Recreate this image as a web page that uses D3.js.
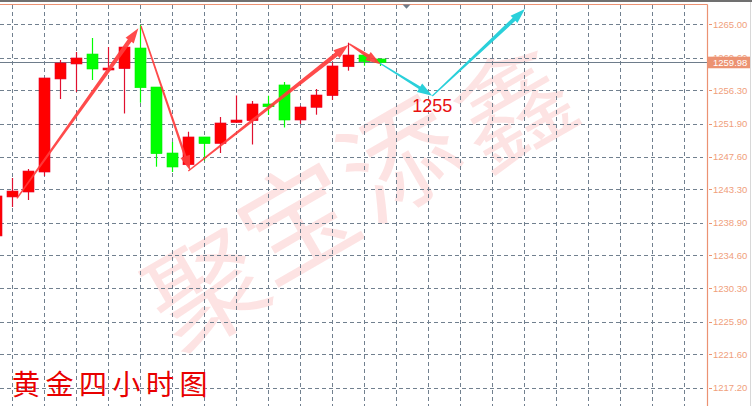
<!DOCTYPE html>
<meta charset="utf-8">
<style>
body { margin: 0; background: #fff; }
svg { display: block; }
.grid line { stroke: #71808f; stroke-width: 1; stroke-dasharray: 4,3; shape-rendering: crispEdges; }
.ylab { font: 9.5px "Liberation Sans", Arial, sans-serif; fill: #f0a07c; }
</style>
<body>
<svg id="chart" width="752" height="406"></svg>
<script src="https://d3js.org/d3.v7.min.js"></script>
<script>
// bars: index 0 sits on the first full grid column
var barIdx  = [-1, 0, 1, 2, 3, 4, 5, 6, 7, 8, 9, 10, 11, 12, 13, 14, 15, 16, 17, 18, 19, 20, 21, 22, 23];
var opens   = [1237.16, 1242.29, 1242.94, 1245.57, 1257.81, 1259.78, 1261.09, 1259.16, 1259.16, 1261.88, 1256.75, 1248.07, 1246.53, 1250.18, 1249.32, 1252.08, 1252.32, 1254.52, 1257.02, 1252.41, 1254.08, 1255.61, 1259.42, 1260.96, 1260.44];
var highs   = [1242.42, 1244.78, 1245.97, 1257.94, 1260.30, 1261.36, 1263.20, 1262.01, 1262.01, 1264.91, 1256.75, 1249.52, 1250.87, 1250.18, 1252.81, 1255.64, 1254.91, 1255.61, 1257.41, 1254.29, 1256.49, 1260.00, 1262.58, 1260.96, 1260.44];
var lows    = [1236.90, 1240.97, 1241.89, 1245.05, 1255.17, 1256.10, 1257.67, 1259.12, 1253.27, 1254.69, 1246.27, 1245.57, 1246.36, 1247.06, 1248.07, 1252.02, 1249.19, 1253.07, 1251.43, 1251.89, 1253.11, 1255.04, 1258.90, 1259.55, 1259.52];
var closes  = [1242.42, 1243.07, 1245.70, 1257.94, 1259.91, 1260.57, 1259.12, 1259.25, 1262.01, 1256.66, 1247.98, 1246.23, 1250.18, 1249.30, 1252.02, 1252.41, 1254.52, 1254.16, 1252.41, 1254.12, 1255.70, 1259.52, 1260.96, 1260.08, 1259.98];

var tickVals = [1265.00, 1260.60, 1256.30, 1251.90, 1247.60, 1243.30, 1238.90, 1234.60, 1230.30, 1225.90, 1221.60, 1217.20];
var lastPrice = 1259.98;

// trend arrows as [bar index, price] pairs
var redArrows = [
  {from: [0.29, 1242.11], to: [7.88, 1264.47], w0: 1.5, w1: 4.5},
  {from: [8.04, 1264.78], to: [11.11, 1245.77], w0: 1.5, w1: 2.5},
  {from: [11.0, 1245.70], to: [21.0, 1262.28], w0: 1.5, w1: 4.5},
  {from: [21.06, 1262.41], to: [23.02, 1259.74], w0: 1.5, w1: 4}
];
var cyanArrows = [
  {from: [22.98, 1259.87], to: [26.25, 1255.61], w0: 1.2, w1: 3},
  {from: [26.25, 1255.57], to: [32.04, 1267.01], w0: 1.2, w1: 4}
];
var target = {idx: 26.25, price: 1253.53, text: "1255"};
var title = "黄金四小时图";
var watermark = ["聚", "宝", "添", "鑫"];

var W = 752, H = 406, axisX = 707.5, topY = 4.5;
var svg = d3.select("#chart");

var x = d3.scaleLinear().domain([0, 1]).range([12.3, 28.3]);
var y = d3.scaleLinear().domain([1217.2, 1265]).range([387.7, 24.3]);

// watermark
var wmPos = [[207, 290], [298, 222], [400, 160], [514, 108]];
svg.append("g").selectAll("text")
  .data(watermark)
  .enter().append("text")
    .attr("transform", function(d, i) { return "translate(" + wmPos[i][0] + "," + wmPos[i][1] + ") rotate(-30)"; })
    .attr("text-anchor", "middle")
    .attr("dy", "0.36em")
    .style("font", "115px 'Noto Sans CJK SC'")
    .style("fill", "#f04040")
    .style("fill-opacity", 0.15)
    .text(function(d) { return d; });

// grid
var grid = svg.append("g").attr("class", "grid");
grid.selectAll(".hg")
  .data(tickVals)
  .enter().append("line")
    .attr("x1", 0).attr("x2", 703)
    .attr("y1", function(d) { return Math.round(y(d)) + 0.5; })
    .attr("y2", function(d) { return Math.round(y(d)) + 0.5; });
grid.selectAll(".vg")
  .data(d3.range(0, 44, 2))
  .enter().append("line")
    .attr("y1", topY).attr("y2", H)
    .attr("x1", function(d) { return Math.round(x(d)) + 0.5; })
    .attr("x2", function(d) { return Math.round(x(d)) + 0.5; });

// current price line
svg.append("line")
  .attr("x1", 0).attr("x2", axisX)
  .attr("y1", Math.round(y(lastPrice)) + 0.5).attr("y2", Math.round(y(lastPrice)) + 0.5)
  .style("stroke", "#6e7c8b").style("stroke-width", 1);

// candles
var bars = barIdx.map(function(d, i) {
  return {i: d, o: opens[i], h: highs[i], l: lows[i], c: closes[i]};
});
var candle = svg.append("g").selectAll("g")
  .data(bars)
  .enter().append("g");
candle.append("line")
  .attr("x1", function(d) { return Math.round(x(d.i)) + 0.5; })
  .attr("x2", function(d) { return Math.round(x(d.i)) + 0.5; })
  .attr("y1", function(d) { return y(d.h); })
  .attr("y2", function(d) { return y(d.l); })
  .style("stroke", function(d) { return d.c >= d.o ? "#e0102f" : "#00ff00"; })
  .style("stroke-width", 1.2);
candle.append("rect")
  .attr("x", function(d) { return Math.round(x(d.i)) - 5; })
  .attr("width", 11)
  .attr("y", function(d) { return y(Math.max(d.o, d.c)); })
  .attr("height", function(d) { return Math.max(2, Math.abs(y(d.o) - y(d.c))); })
  .style("fill", function(d) { return d.c >= d.o ? "#ff0000" : "#00ff00"; })
  .style("stroke", function(d) { return d.c >= d.o ? "#e8002a" : "#00ee00"; })
  .style("stroke-width", 0.6);

// tapered arrow shape
function arrowPath(a) {
  var x0 = x(a.from[0]), y0 = y(a.from[1]), x1 = x(a.to[0]), y1 = y(a.to[1]);
  var dx = x1 - x0, dy = y1 - y0, len = Math.sqrt(dx * dx + dy * dy);
  var ux = dx / len, uy = dy / len, nx = -uy, ny = ux;
  var hl = 15, hw = 10;
  var bx = x1 - ux * hl, by = y1 - uy * hl;
  var pts = [
    [x0 + nx * a.w0 / 2, y0 + ny * a.w0 / 2],
    [bx + nx * a.w1 / 2, by + ny * a.w1 / 2],
    [bx + nx * hw / 2, by + ny * hw / 2],
    [x1, y1],
    [bx - nx * hw / 2, by - ny * hw / 2],
    [bx - nx * a.w1 / 2, by - ny * a.w1 / 2],
    [x0 - nx * a.w0 / 2, y0 - ny * a.w0 / 2]
  ];
  return "M" + pts.join("L") + "Z";
}

svg.append("g").selectAll("path")
  .data(redArrows)
  .enter().append("path")
    .attr("d", arrowPath)
    .style("fill", "#ff3c3c")
    .style("fill-opacity", 0.92);
svg.append("g").selectAll("path")
  .data(cyanArrows)
  .enter().append("path")
    .attr("d", arrowPath)
    .style("fill", "#2ad0da");

svg.append("text")
  .attr("x", x(target.idx)).attr("y", y(target.price))
  .attr("text-anchor", "middle")
  .style("font", "18px 'Liberation Sans', Arial, sans-serif")
  .style("fill", "#e81010")
  .text(target.text);

// title
svg.append("text")
  .attr("x", 12).attr("y", 395)
  .style("font", "28px 'Noto Sans CJK SC'")
  .style("letter-spacing", "5.5px")
  .style("fill", "#e80000")
  .text(title);

// frame
svg.append("rect").attr("x", 0).attr("y", 0).attr("width", W).attr("height", 2).style("fill", "#707070");
svg.append("line").attr("x1", 0).attr("x2", axisX).attr("y1", topY).attr("y2", topY)
  .style("stroke", "#ec9272").style("stroke-width", 1.2);
svg.append("path")
  .attr("d", "M402.5,4.5L410.5,4.5L406.5,8.8Z")
  .style("fill", "#6e7c8b");

// right price axis
svg.append("line").attr("x1", axisX).attr("x2", axisX).attr("y1", topY).attr("y2", H)
  .style("stroke", "#ec9272").style("stroke-width", 1.2);
svg.append("line").attr("x1", 750.5).attr("x2", 750.5).attr("y1", 2).attr("y2", H)
  .style("stroke", "#d8d8d8");
var ax = svg.append("g");
ax.selectAll("line")
  .data(tickVals)
  .enter().append("line")
    .attr("x1", 709).attr("x2", 712)
    .attr("y1", function(d) { return Math.round(y(d)) + 0.5; })
    .attr("y2", function(d) { return Math.round(y(d)) + 0.5; })
    .style("stroke", "#ec9272");
ax.selectAll("text")
  .data(tickVals)
  .enter().append("text")
    .attr("class", "ylab")
    .attr("x", 713)
    .attr("y", function(d) { return y(d) + 3.4; })
    .text(function(d) { return d.toFixed(2); });

// last price tag
svg.append("rect")
  .attr("x", 708).attr("y", y(lastPrice) - 5.8)
  .attr("width", 42).attr("height", 11.6)
  .style("fill", "#ec9272");
svg.append("text")
  .attr("class", "ylab")
  .attr("x", 713).attr("y", y(lastPrice) + 3.4)
  .style("fill", "#fff")
  .text(lastPrice.toFixed(2));
</script>
</body>
